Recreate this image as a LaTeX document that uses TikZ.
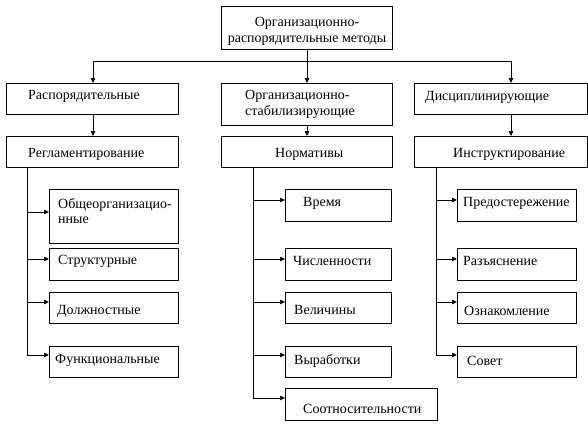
\documentclass[tikz,border=0pt]{standalone}
\usepackage{fontspec}
\setmainfont{Liberation Serif}
\usetikzlibrary{arrows.meta}
\tikzset{
  box/.style={draw, line width=0.7pt, inner sep=0pt, anchor=north west},
  lbl/.style={inner sep=0pt, anchor=west, align=left, font=\fontsize{14}{15.5}\selectfont},
  ctr/.style={inner sep=0pt, align=center, font=\fontsize{14}{16}\selectfont},
  conn/.style={line width=0.7pt},
  arr/.style={line width=0.7pt, -{Triangle[length=5pt,width=4.5pt]}},
}
\begin{document}
\begin{tikzpicture}[x=1pt,y=-1pt]
\useasboundingbox (0,0) rectangle (588,423);
% boxes
\node[box, minimum width=171pt, minimum height=43pt] (top) at (221,6) {};
\node[box, minimum width=172pt, minimum height=31pt] (r2a) at (6,83) {};
\node[box, minimum width=171pt, minimum height=42pt] (r2b) at (221,83) {};
\node[box, minimum width=173pt, minimum height=31pt] (r2c) at (414,83) {};
\node[box, minimum width=172pt, minimum height=31pt] (r3a) at (6,136) {};
\node[box, minimum width=171pt, minimum height=31pt] (r3b) at (221,136) {};
\node[box, minimum width=173pt, minimum height=31pt] (r3c) at (414,136) {};
\node[box, minimum width=129pt, minimum height=54pt] (a1) at (49,189) {};
\node[box, minimum width=129pt, minimum height=32pt] (a2) at (49,248) {};
\node[box, minimum width=129pt, minimum height=31pt] (a3) at (49,292) {};
\node[box, minimum width=129pt, minimum height=31pt] (a4) at (49,346) {};
\node[box, minimum width=106pt, minimum height=32pt] (b1) at (285,189) {};
\node[box, minimum width=106pt, minimum height=32pt] (b2) at (285,248) {};
\node[box, minimum width=106pt, minimum height=31pt] (b3) at (285,292) {};
\node[box, minimum width=106pt, minimum height=31pt] (b4) at (285,346) {};
\node[box, minimum width=152pt, minimum height=32pt] (b5) at (285,388) {};
\node[box, minimum width=119pt, minimum height=32pt] (c1) at (457,189) {};
\node[box, minimum width=119pt, minimum height=32pt] (c2) at (457,248) {};
\node[box, minimum width=119pt, minimum height=31pt] (c3) at (457,292) {};
\node[box, minimum width=119pt, minimum height=31pt] (c4) at (457,346) {};
% texts
\node[ctr] (ttop) at (307,31) {Организационно-\\распорядительные методы};
\node[lbl] (tr2a) at (28,96) {Распорядительные};
\node[lbl] (tr2b) at (245,104.5) {Организационно-\\стабилизирующие};
\node[lbl] (tr2c) at (425,97) {Дисциплинирующие};
\node[lbl] (tr3a) at (28,154) {Регламентирование};
\node[lbl] (tr3b) at (275,154) {Нормативы};
\node[lbl] (tr3c) at (453,154) {Инструктирование};
\node[lbl] (ta1) at (58,211) {Общеорганизацио-\\нные};
\node[lbl] (ta2) at (58,261) {Структурные};
\node[lbl] (ta3) at (57,311) {Должностные};
\node[lbl] (ta4) at (55,360) {Функциональные};
\node[lbl] (tb1) at (303,203) {Время};
\node[lbl] (tb2) at (293,261) {Численности};
\node[lbl] (tb3) at (294,310) {Величины};
\node[lbl] (tb4) at (294,361) {Выработки};
\node[lbl] (tb5) at (303,409) {Соотносительности};
\node[lbl] (tc1) at (463,203) {Предостережение};
\node[lbl] (tc2) at (463,261) {Разъяснение};
\node[lbl] (tc3) at (464,311) {Ознакомление};
\node[lbl] (tc4) at (467,361) {Совет};
% top connectors
\coordinate (J) at (307,61);
\coordinate (JL) at (93,61);
\coordinate (JR) at (511,61);
\draw[conn] (top.south -| J) -- (J);
\draw[conn] (JL) -- (JR);
\draw[arr] (JL) -- (JL |- r2a.north);
\draw[arr] (J) -- (J |- r2b.north);
\draw[arr] (JR) -- (JR |- r2c.north);
\draw[arr] (JL |- r2a.south) -- (JL |- r3a.north);
\draw[arr] (J |- r2b.south) -- (J |- r3b.north);
\draw[arr] (JR |- r2c.south) -- (JR |- r3c.north);
% left spine
\coordinate (La) at (27,212);
\coordinate (Lb) at (27,259);
\coordinate (Lc) at (27,302);
\coordinate (Ld) at (27,355);
\draw[conn] (r3a.south -| Ld) -- (Ld);
\draw[arr] (La) -- (La -| a1.west);
\draw[arr] (Lb) -- (Lb -| a2.west);
\draw[arr] (Lc) -- (Lc -| a3.west);
\draw[arr] (Ld) -- (Ld -| a4.west);
% middle spine
\coordinate (Ma) at (253,200);
\coordinate (Mb) at (253,259);
\coordinate (Mc) at (253,302);
\coordinate (Md) at (253,355);
\coordinate (Me) at (253,398);
\draw[conn] (r3b.south -| Me) -- (Me);
\draw[arr] (Ma) -- (Ma -| b1.west);
\draw[arr] (Mb) -- (Mb -| b2.west);
\draw[arr] (Mc) -- (Mc -| b3.west);
\draw[arr] (Md) -- (Md -| b4.west);
\draw[arr] (Me) -- (Me -| b5.west);
% right spine
\coordinate (Ra) at (436,200);
\coordinate (Rb) at (436,259);
\coordinate (Rc) at (436,302);
\coordinate (Rd) at (436,355);
\draw[conn] (r3c.south -| Rd) -- (Rd);
\draw[arr] (Ra) -- (Ra -| c1.west);
\draw[arr] (Rb) -- (Rb -| c2.west);
\draw[arr] (Rc) -- (Rc -| c3.west);
\draw[arr] (Rd) -- (Rd -| c4.west);
\end{tikzpicture}
\end{document}
